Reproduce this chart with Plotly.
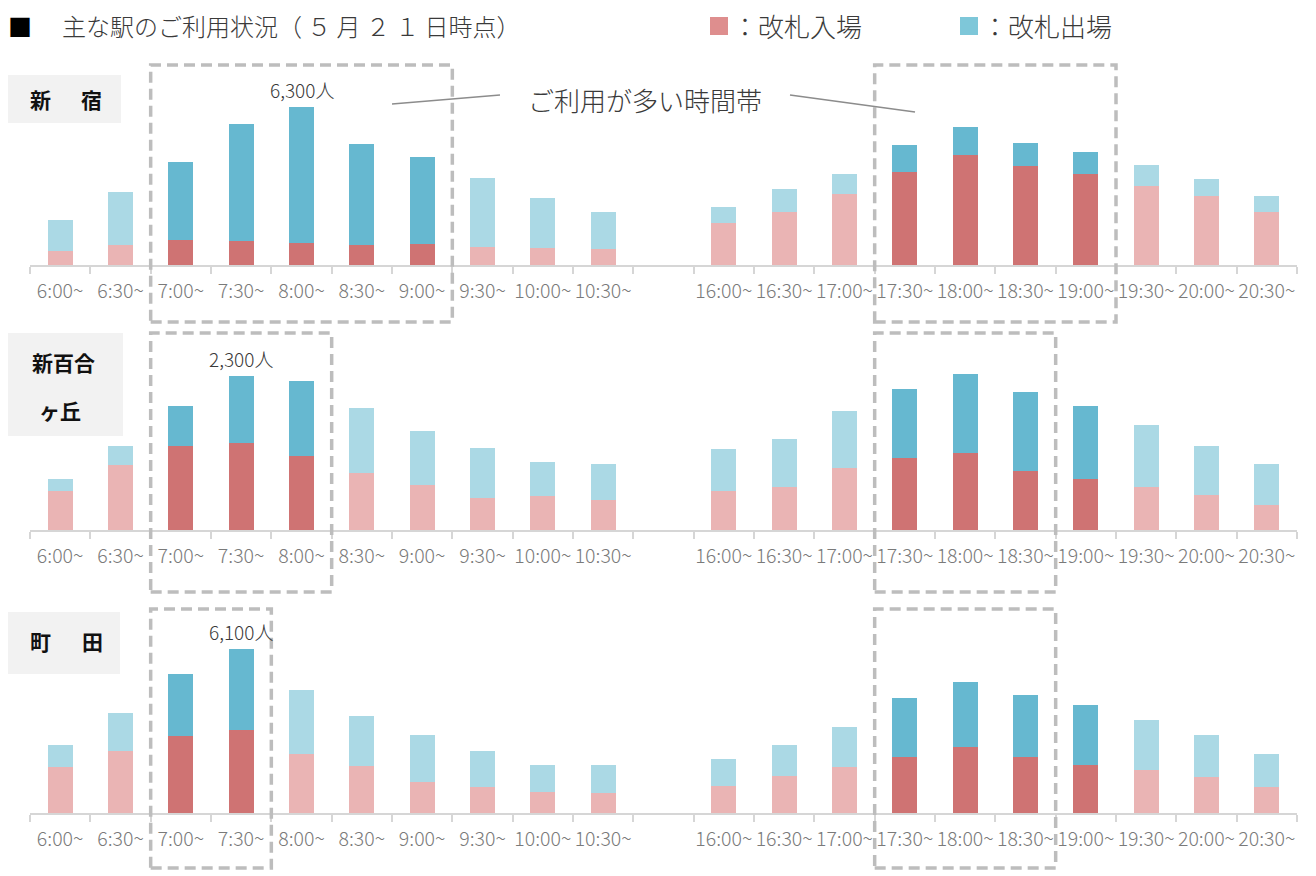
import plotly.graph_objects as go

# page body has an 8px margin: figure is placed at (8, 8)
OFF = 8
FW, FH = 1316 - OFF, 876 - OFF
FONT = "Noto Sans CJK JP"

# ---------------- data ----------------
slots = ["6:00~", "6:30~", "7:00~", "7:30~", "8:00~", "8:30~", "9:00~", "9:30~", "10:00~", "10:30~", " ",
         "16:00~", "16:30~", "17:00~", "17:30~", "18:00~", "18:30~", "19:00~", "19:30~", "20:00~", "20:30~"]

stations = ["新宿", "新百合ヶ丘", "町田"]

shinjuku_in = [560, 800, 1000, 960, 880, 800, 840, 720, 680, 640, None,
               1670, 2110, 2830, 3710, 4390, 3950, 3630, 3150, 2750, 2110]
shinjuku_out = [1240, 2110, 3110, 4660, 5420, 4030, 3470, 2750, 1990, 1480, None,
                640, 920, 800, 1080, 1120, 920, 880, 840, 680, 640]

shinyuri_in = [580, 970, 1250, 1300, 1110, 850, 670, 480, 510, 450, None,
               580, 640, 930, 1080, 1150, 880, 760, 640, 520, 370]
shinyuri_out = [180, 280, 600, 1000, 1120, 970, 810, 750, 510, 540, None,
                630, 720, 850, 1030, 1180, 1180, 1090, 930, 730, 610]

machida_in = [1710, 2310, 2860, 3090, 2190, 1750, 1150, 970, 780, 740, None,
              1000, 1380, 1710, 2080, 2460, 2080, 1790, 1600, 1340, 970]
machida_out = [820, 1410, 2310, 3010, 2380, 1860, 1750, 1340, 1000, 1040, None,
               1000, 1150, 1490, 2190, 2420, 2310, 2230, 1860, 1560, 1230]

shinjuku_solid = ["7:00~", "7:30~", "8:00~", "8:30~", "9:00~", "17:30~", "18:00~", "18:30~", "19:00~"]
shinyuri_solid = ["7:00~", "7:30~", "8:00~", "17:30~", "18:00~", "18:30~", "19:00~"]
machida_solid = ["7:00~", "7:30~", "17:30~", "18:00~", "18:30~", "19:00~"]

shinjuku_peaks = [("7:00~", "9:00~"), ("17:30~", "19:00~")]
shinyuri_peaks = [("7:00~", "8:00~"), ("17:30~", "18:30~")]
machida_peaks = [("7:00~", "7:30~"), ("17:30~", "18:30~")]

peak_labels = [("8:00~", "6,300人"), ("7:30~", "2,300人"), ("7:30~", "6,100人")]

# ---------------- styling ----------------
RED_SOLID, RED_LIGHT = "#CF7373", "#EAB4B4"
BLUE_SOLID, BLUE_LIGHT = "#66B8D0", "#ABD9E5"
GRID = "#D6D6D6"
BOX = "#BDBDBD"
TXT = "#3A3A3A"


def X(px):
    return (px - OFF) / FW


def Y(py):
    return 1 - (py - OFF) / FH


panels = [
    dict(inn=shinjuku_in, out=shinjuku_out, solid=shinjuku_solid, peaks=shinjuku_peaks,
         base=265, top=100, peak_px=158, box=(65, 322)),
    dict(inn=shinyuri_in, out=shinyuri_out, solid=shinyuri_solid, peaks=shinyuri_peaks,
         base=530, top=370, peak_px=154, box=(333, 592)),
    dict(inn=machida_in, out=machida_out, solid=machida_solid, peaks=machida_peaks,
         base=813, top=645, peak_px=164, box=(609, 868)),
]

fig = go.Figure()
layout = dict(
    width=FW, height=FH, autosize=False,
    margin=dict(l=0, r=0, t=0, b=0, autoexpand=False),
    paper_bgcolor="white", plot_bgcolor="white",
    barmode="stack", bargap=0.585,
    showlegend=False,
    font=dict(family=FONT, color=TXT),
)
shapes = []
annotations = []

for i, p in enumerate(panels):
    n = "" if i == 0 else str(i + 1)
    xa, ya = "x" + n, "y" + n
    solid_flags = [s in p["solid"] for s in slots]
    col_in = [RED_SOLID if f else RED_LIGHT for f in solid_flags]
    col_out = [BLUE_SOLID if f else BLUE_LIGHT for f in solid_flags]
    for vals, cols, name in ((p["inn"], col_in, "改札入場"), (p["out"], col_out, "改札出場")):
        fig.add_trace(go.Bar(x=slots, y=vals, xaxis=xa, yaxis=ya, name=name,
                             marker=dict(color=cols, line=dict(width=0))))
    cat, label = peak_labels[i]
    k = slots.index(cat)
    peak_total = p["inn"][k] + p["out"][k]
    ymax = peak_total * (p["base"] - p["top"]) / p["peak_px"]
    layout["xaxis" + n] = dict(
        domain=[X(30), X(1297)], anchor=ya, type="category",
        categoryorder="array", categoryarray=slots,
        showline=True, linecolor=GRID, linewidth=1.5,
        ticks="outside", tickson="boundaries", ticklen=7, tickcolor=GRID, tickwidth=1.5,
        tickfont=dict(family=FONT, size=19.5, color="#7A7A7A", weight=300),
        tickangle=0, automargin=False,
        ticklabelstandoff=8,
        showgrid=False, zeroline=False, fixedrange=True,
    )
    layout["yaxis" + n] = dict(
        domain=[Y(p["base"]), Y(p["top"])], anchor=xa, range=[0, ymax],
        visible=False, showgrid=False, zeroline=False, fixedrange=True,
    )
    annotations.append(dict(x=cat, y=peak_total, xref=xa, yref=ya, text=label,
                            showarrow=False, yanchor="bottom", yshift=2,
                            font=dict(family=FONT, size=19, color=TXT, weight=300)))
    for a, b in p["peaks"]:
        shapes.append(dict(type="rect", xref=xa, yref="paper",
                           x0=slots.index(a) - 0.5, x1=slots.index(b) + 0.5,
                           y0=Y(p["box"][1]), y1=Y(p["box"][0]),
                           line=dict(color=BOX, width=3.5, dash="11px,6px"),
                           fillcolor="rgba(0,0,0,0)", layer="above"))

# station name boxes
name_boxes = [(0, 75, 121, 123), (0, 333, 123, 436), (0, 612, 120, 674)]
for (x0, y0, x1, y1) in name_boxes:
    shapes.append(dict(type="rect", xref="paper", yref="paper",
                       x0=X(x0), x1=X(x1), y0=Y(y1), y1=Y(y0),
                       fillcolor="#F2F2F2", line=dict(width=0), layer="below"))


def text(t, px, py, size=21, anchor="center", bold=True, color="#111111", weight=None):
    f = dict(family=FONT, size=size, color=color)
    if weight:
        f["weight"] = weight
    annotations.append(dict(x=X(px), y=Y(py), xref="paper", yref="paper",
                            text=f"<b>{t}</b>" if bold else t, showarrow=False,
                            xanchor=anchor, yanchor="middle", font=f))


text("新", 40, 99)
text("宿", 91, 99)
text("新百合", 63, 362)
text("ヶ丘", 60, 410)
text("町", 40, 641)
text("田", 92, 641)

# title
text("■", 6, 25, size=24, anchor="left", bold=False, color="#000000")
text("主な駅のご利用状況（ ５ 月 ２ １ 日時点）", 60, 25, size=24, anchor="left",
     bold=False, color=TXT, weight=300)

# custom legend
shapes.append(dict(type="rect", xref="paper", yref="paper", x0=X(710), x1=X(728), y0=Y(35), y1=Y(17),
                   fillcolor="#DE8E8E", line=dict(width=0)))
shapes.append(dict(type="rect", xref="paper", yref="paper", x0=X(960), x1=X(978), y0=Y(35), y1=Y(17),
                   fillcolor="#7EC7D9", line=dict(width=0)))
text("：改札入場", 730, 25, size=26, anchor="left", bold=False, color=TXT, weight=300)
text("：改札出場", 980, 25, size=26, anchor="left", bold=False, color=TXT, weight=300)

# callout
text("ご利用が多い時間帯", 645, 100, size=26, bold=False, color=TXT, weight=300)
shapes.append(dict(type="line", xref="paper", yref="paper", x0=X(392), y0=Y(104), x1=X(500), y1=Y(95),
                   line=dict(color="#8C8C8C", width=1.5)))
shapes.append(dict(type="line", xref="paper", yref="paper", x0=X(790), y0=Y(95), x1=X(915), y1=Y(112),
                   line=dict(color="#8C8C8C", width=1.5)))

layout["shapes"] = shapes
layout["annotations"] = annotations
fig.update_layout(**layout)

fig.write_html("out.html")
